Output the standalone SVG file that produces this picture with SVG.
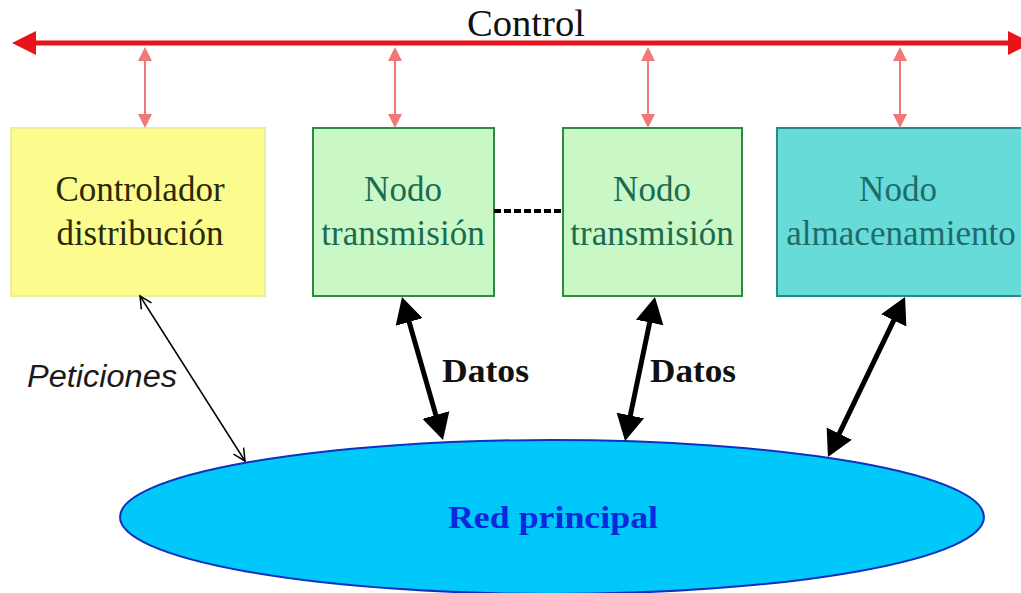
<svg xmlns="http://www.w3.org/2000/svg" width="1021" height="593" viewBox="0 0 1021 593">
<style>
.serif{font-family:"Liberation Serif","Times New Roman",serif}
.node-t{font-size:35px;text-anchor:middle}
.box{stroke-width:2}
.blk{stroke:#000;stroke-width:5;fill:none}
.pink{stroke:#f07878;stroke-width:2;fill:none}
.red{stroke:#e8141c;stroke-width:5;fill:none}
.lbl{font-weight:bold;font-size:33px;fill:#111}
</style>
<defs>
<marker id="mRed" markerUnits="userSpaceOnUse" markerWidth="26" markerHeight="28" viewBox="0 0 26 28" refX="4" refY="14" orient="auto-start-reverse"><path d="M0,2 L24,14 L0,26 z" fill="#e8141c"/></marker>
<marker id="mPink" markerUnits="userSpaceOnUse" markerWidth="16" markerHeight="16" viewBox="0 0 16 16" refX="4" refY="8" orient="auto-start-reverse"><path d="M0,1 L14,8 L0,15 z" fill="#f07878"/></marker>
<marker id="mBlk" markerUnits="userSpaceOnUse" markerWidth="28" markerHeight="30" viewBox="0 0 28 30" refX="10" refY="15" orient="auto-start-reverse"><path d="M0,1 L26,15 L0,29 z" fill="#000"/></marker>
<marker id="mOpen" markerUnits="userSpaceOnUse" markerWidth="16" markerHeight="14" viewBox="0 0 16 14" refX="13" refY="7" orient="auto-start-reverse"><path d="M1,1 L13,7 L1,13" fill="none" stroke="#000" stroke-width="1.5"/></marker>
</defs>
<rect width="1021" height="593" fill="#fff"/>

<g id="red-principal">
<ellipse cx="552" cy="517" rx="432" ry="77" fill="#00c8fa" stroke="#1030c0" stroke-width="2"/>
<text class="serif" x="553" y="528" font-size="32" font-weight="bold" fill="#0a28e0" text-anchor="middle" textLength="210" lengthAdjust="spacingAndGlyphs">Red principal</text>
</g>

<g id="controlador">
<rect class="box" x="11" y="128" width="254" height="168" fill="#fcfc8e" stroke="#eeee9a"/>
<text class="serif node-t" x="140" y="201" fill="#2a2a08">Controlador</text>
<text class="serif node-t" x="140" y="245" fill="#2a2a08">distribución</text>
</g>

<g id="nodo-transmision-1">
<rect class="box" x="313" y="128" width="181" height="168" fill="#c9f8c6" stroke="#2e8b3e"/>
<text class="serif node-t" x="403" y="201" fill="#1b6b50">Nodo</text>
<text class="serif node-t" x="403" y="245" fill="#1b6b50">transmisión</text>
</g>

<g id="nodo-transmision-2">
<rect class="box" x="563" y="128" width="179" height="168" fill="#c9f8c6" stroke="#2e8b3e"/>
<text class="serif node-t" x="652" y="201" fill="#1b6b50">Nodo</text>
<text class="serif node-t" x="652" y="245" fill="#1b6b50">transmisión</text>
</g>

<g id="nodo-almacenamiento">
<rect class="box" x="777" y="128" width="260" height="168" fill="#66dbd8" stroke="#2a8a8a"/>
<text class="serif node-t" x="898" y="201" fill="#1f6b6b">Nodo</text>
<text class="serif node-t" x="901" y="245" fill="#1f6b6b">almacenamiento</text>
</g>

<g id="connectors">
<line class="red" x1="32" y1="43" x2="1012" y2="43" marker-start="url(#mRed)" marker-end="url(#mRed)"/>
<line class="pink" x1="145" y1="57" x2="145" y2="118" marker-start="url(#mPink)" marker-end="url(#mPink)"/>
<line class="pink" x1="395" y1="57" x2="395" y2="118" marker-start="url(#mPink)" marker-end="url(#mPink)"/>
<line class="pink" x1="648" y1="57" x2="648" y2="118" marker-start="url(#mPink)" marker-end="url(#mPink)"/>
<line class="pink" x1="900" y1="57" x2="900" y2="118" marker-start="url(#mPink)" marker-end="url(#mPink)"/>
<line x1="494" y1="211" x2="563" y2="211" stroke="#000" stroke-width="4" stroke-dasharray="7 3"/>
<line class="blk" x1="406.4" y1="312.4" x2="438.6" y2="424.6" marker-start="url(#mBlk)" marker-end="url(#mBlk)"/>
<line class="blk" x1="651.7" y1="312.7" x2="628.3" y2="425.3" marker-start="url(#mBlk)" marker-end="url(#mBlk)"/>
<line class="blk" x1="898.1" y1="311.4" x2="834.9" y2="442.6" marker-start="url(#mBlk)" marker-end="url(#mBlk)"/>
<line x1="140" y1="296" x2="245" y2="461" stroke="#000" stroke-width="1.5" marker-start="url(#mOpen)" marker-end="url(#mOpen)"/>
</g>

<g id="labels">
<text class="serif" x="526" y="36" font-size="37" fill="#111" text-anchor="middle" textLength="118" lengthAdjust="spacingAndGlyphs">Control</text>
<text class="serif lbl" x="442" y="382" textLength="87" lengthAdjust="spacingAndGlyphs">Datos</text>
<text class="serif lbl" x="650" y="382" textLength="86" lengthAdjust="spacingAndGlyphs">Datos</text>
<text x="27" y="387" font-family="'Liberation Sans',Arial,sans-serif" font-style="italic" font-size="31" fill="#1a1a1a" textLength="150" lengthAdjust="spacingAndGlyphs">Peticiones</text>
</g>
</svg>
